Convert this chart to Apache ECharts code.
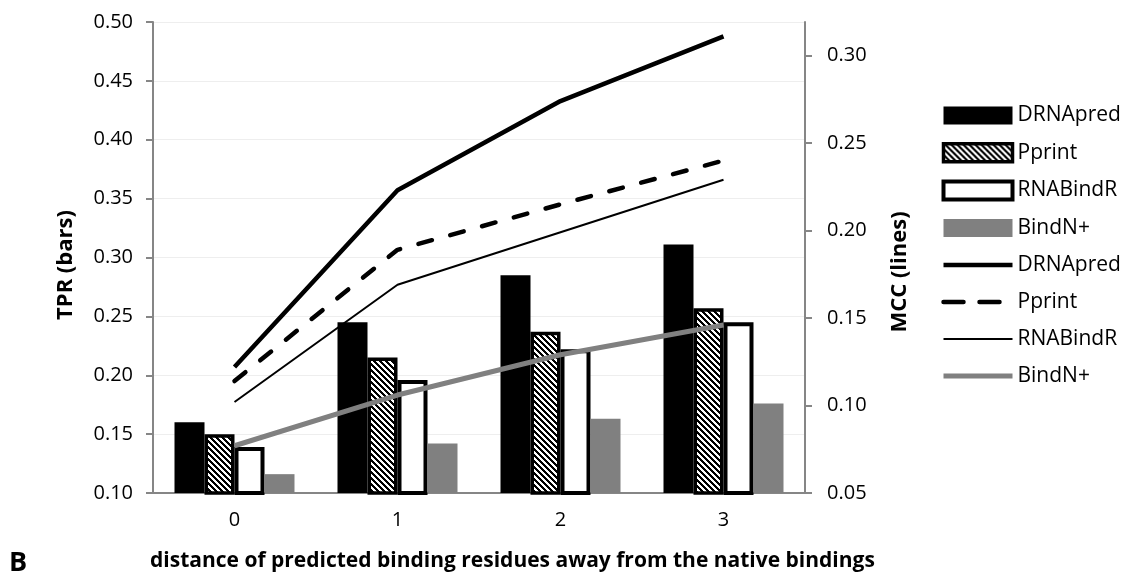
<!DOCTYPE html>
<html>
<head>
<meta charset="utf-8">
<script src="https://cdn.jsdelivr.net/npm/echarts@6/dist/echarts.min.js"></script>
<style>
  html, body { margin: 0; padding: 0; background: #ffffff; }
  #chart { width: 1126px; height: 580px; }
</style>
</head>
<body>
<div id="chart"></div>
<script>
// Distance (in residues) of predicted binding residues from the native bindings
const categories = ['0', '1', '2', '3'];

// TPR per predictor (bars, left axis)
const tprDRNApred = [0.160, 0.245, 0.285, 0.311];
const tprPprint   = [0.150, 0.215, 0.237, 0.257];
const tprRNABindR = [0.139, 0.196, 0.222, 0.245];
const tprBindN    = [0.116, 0.142, 0.163, 0.176];

// MCC per predictor (lines, right axis)
const mccDRNApred = [0.122, 0.223, 0.274, 0.311];
const mccPprint   = [0.114, 0.189, 0.215, 0.240];
const mccRNABindR = [0.102, 0.169, 0.199, 0.229];
const mccBindN    = [0.077, 0.106, 0.129, 0.146];

// Tick values shown on the two value axes
const tprTicks = [0.10, 0.15, 0.20, 0.25, 0.30, 0.35, 0.40, 0.45, 0.50];
const mccTicks = [0.05, 0.10, 0.15, 0.20, 0.25, 0.30];

const FONT = 'Open Sans';
const GRAY = '#808080';
const AXIS = '#868686';

// Diagonal black/white hatch fill used for the Pprint bars
function hatchPattern() {
  const size = 6;
  const c = document.createElement('canvas');
  c.width = size; c.height = size;
  const ctx = c.getContext('2d');
  const img = ctx.createImageData(size, size);
  for (let y = 0; y < size; y++) {
    for (let x = 0; x < size; x++) {
      const black = ((x - y + size * 2) % size) < 3;
      const i = (y * size + x) * 4;
      const v = black ? 0 : 255;
      img.data[i] = v; img.data[i + 1] = v; img.data[i + 2] = v; img.data[i + 3] = 255;
    }
  }
  ctx.putImageData(img, 0, 0);
  return c;
}
const hatch = { image: hatchPattern(), repeat: 'repeat' };

// Bar and line styles per predictor
const barStyles = {
  DRNApred: { color: '#000000', borderWidth: 0 },
  Pprint:   { color: hatch, borderColor: '#000000', borderWidth: 3.5 },
  RNABindR: { color: '#ffffff', borderColor: '#000000', borderWidth: 4 },
  'BindN+': { color: GRAY, borderWidth: 0 }
};
const lineStyles = {
  DRNApred: { color: '#000000', width: 4.5 },
  Pprint:   { color: '#000000', width: 4.5, type: [14, 19], cap: 'round' },
  RNABindR: { color: '#000000', width: 2 },
  'BindN+': { color: GRAY, width: 5 }
};

// Line series get a trailing space so their legend entries stay separate from the bars
const lineName = n => n + ' ';

function barSeries(name, data) {
  return {
    name, type: 'bar', yAxisIndex: 0, data,
    barWidth: 30, barGap: '0%',
    itemStyle: barStyles[name], z: 2,
    emphasis: { disabled: true }
  };
}
function lineSeries(name, data) {
  const ls = lineStyles[name];
  return {
    name: lineName(name), type: 'line', yAxisIndex: 1, data,
    symbol: 'none', showSymbol: false,
    itemStyle: { color: ls.color },
    lineStyle: Object.assign({ join: 'round' }, ls),
    z: 3,
    emphasis: { disabled: true }
  };
}
// Legend entries
const barLegend = name => ({
  name, icon: 'rect',
  itemStyle: Object.assign({ borderColor: '#000000' }, barStyles[name])
});
const lineLegend = (name, override) => ({
  name: lineName(name),
  itemStyle: { opacity: 0 },
  lineStyle: Object.assign({}, lineStyles[name], override || {})
});

const chart = echarts.init(document.getElementById('chart'), null, { renderer: 'canvas' });

chart.setOption({
  animation: false,
  backgroundColor: '#ffffff',
  textStyle: { fontFamily: FONT, color: '#000000' },
  grid: { left: 153, right: 321, top: 22, bottom: 87, containLabel: false },
  title: [
    { text: 'B', left: 9, top: 550, padding: 0,
      textStyle: { fontFamily: FONT, fontSize: 27, fontWeight: 'bold', color: '#000' } },
    { text: 'distance of predicted binding residues away from the native bindings',
      left: 150, top: 551, padding: 0,
      textStyle: { fontFamily: FONT, fontSize: 21, fontWeight: 'bold', color: '#000' } }
  ],
  graphic: [
    { type: 'text', x: 66, y: 265, rotation: Math.PI / 2,
      style: { text: 'TPR (bars)', fontFamily: FONT, fontSize: 22, fontWeight: 'bold',
               fill: '#000', align: 'center', verticalAlign: 'middle' } },
    { type: 'text', x: 900, y: 272, rotation: Math.PI / 2,
      style: { text: 'MCC (lines)', fontFamily: FONT, fontSize: 22, fontWeight: 'bold',
               fill: '#000', align: 'center', verticalAlign: 'middle' } }
  ],
  legend: {
    orient: 'vertical',
    left: 941, top: 105,
    itemWidth: 69, itemHeight: 18, itemGap: 16,
    padding: 0,
    selectedMode: false,
    formatter: n => n.trim(),
    textStyle: { fontFamily: FONT, fontSize: 21, color: '#000', lineHeight: 18, padding: 0 },
    data: [
      barLegend('DRNApred'),
      barLegend('Pprint'),
      barLegend('RNABindR'),
      barLegend('BindN+'),
      lineLegend('DRNApred'),
      lineLegend('Pprint', { type: [20, 16] }),
      lineLegend('RNABindR'),
      lineLegend('BindN+')
    ]
  },
  xAxis: {
    type: 'category',
    data: categories,
    axisLine: { lineStyle: { color: AXIS, width: 2 } },
    axisTick: { show: false },
    axisLabel: { fontFamily: FONT, fontSize: 20, color: '#000', margin: 17 }
  },
  yAxis: [
    {
      type: 'value', position: 'left',
      min: tprTicks[0], max: tprTicks[tprTicks.length - 1], interval: 0.05,
      axisLine: { show: true, lineStyle: { color: AXIS, width: 2 } },
      axisTick: { show: true, length: 7, lineStyle: { color: AXIS, width: 2 } },
      axisLabel: { fontFamily: FONT, fontSize: 20, color: '#000', margin: 20,
                   formatter: v => v.toFixed(2) },
      splitLine: { show: true, lineStyle: { color: '#eeeeee', width: 1 } }
    },
    {
      type: 'value', position: 'right',
      min: mccTicks[0], max: 0.3192, interval: 0.05,
      axisLine: { show: true, lineStyle: { color: AXIS, width: 2 } },
      axisTick: { show: true, length: 7, customValues: mccTicks,
                  lineStyle: { color: AXIS, width: 2 } },
      axisLabel: { fontFamily: FONT, fontSize: 20, color: '#000', margin: 22,
                   customValues: mccTicks, formatter: v => v.toFixed(2) },
      splitLine: { show: false }
    }
  ],
  series: [
    barSeries('DRNApred', tprDRNApred),
    barSeries('Pprint', tprPprint),
    barSeries('RNABindR', tprRNABindR),
    barSeries('BindN+', tprBindN),
    lineSeries('DRNApred', mccDRNApred),
    lineSeries('Pprint', mccPprint),
    lineSeries('RNABindR', mccRNABindR),
    lineSeries('BindN+', mccBindN)
  ]
});
</script>
</body>
</html>
